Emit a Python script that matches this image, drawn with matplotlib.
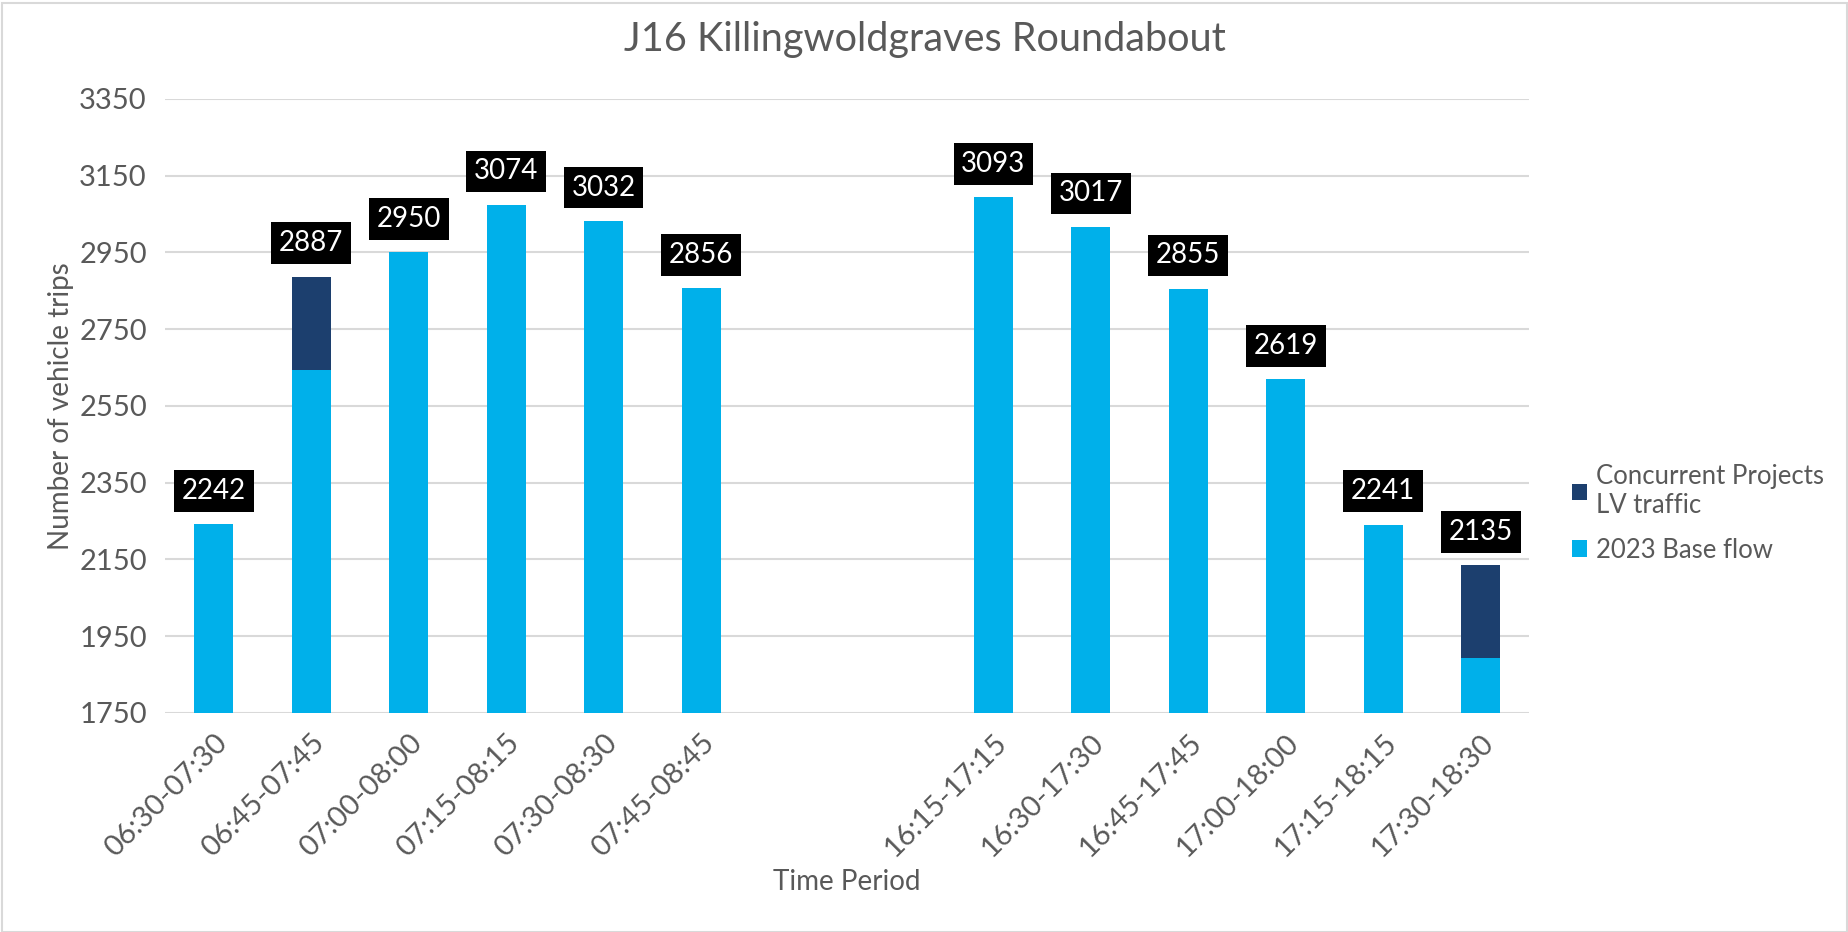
import matplotlib.pyplot as plt
import matplotlib.patches as patches
import numpy as np

plt.rcParams["font.family"] = ["Lato", "DejaVu Sans"]

# two empty slots separate the morning and evening peaks
periods = [
    "06:30-07:30", "06:45-07:45", "07:00-08:00", "07:15-08:15", "07:30-08:30",
    "07:45-08:45", "", "", "16:15-17:15", "16:30-17:30", "16:45-17:45",
    "17:00-18:00", "17:15-18:15", "17:30-18:30",
]
base_flow = [2242, 2644, 2950, 3074, 3032, 2856, np.nan, np.nan,
             3093, 3017, 2855, 2619, 2241, 1892]
concurrent = [0, 243, 0, 0, 0, 0, np.nan, np.nan, 0, 0, 0, 0, 0, 243]
yticks = [1750, 1950, 2150, 2350, 2550, 2750, 2950, 3150, 3350]

TEXT = "#595959"
GRID = "#D9D9D9"
BASE_C = "#00B0EA"
CONC_C = "#1C3F6E"

fig = plt.figure(figsize=(18.49, 9.32), dpi=100)
ax = fig.add_axes([0.0892, 0.235, 0.738, 0.659])

# light frame round the whole chart
fig.patches.append(patches.Rectangle((0.001, 0.0), 0.998, 0.997, transform=fig.transFigure,
                                     fill=False, edgecolor=GRID, linewidth=1.5))

x = np.arange(len(periods))
base = np.array(base_flow, dtype=float)
conc = np.array(concurrent, dtype=float)
ax.bar(x, base, width=0.4, color=BASE_C, label="2023 Base flow", zorder=3)
ax.bar(x, conc, width=0.4, bottom=base, color=CONC_C,
       label="Concurrent Projects\nLV traffic", zorder=3)

total = base + conc
for xi, t in zip(x, total):
    if np.isnan(t):
        continue
    ax.annotate(f"{t:.0f}", (xi, t), xytext=(0, 24), textcoords="offset points",
                ha="center", va="center", color="white", fontsize=20,
                bbox=dict(boxstyle="square,pad=0.28", fc="black", ec="none"),
                zorder=5)

ax.set_ylim(1750, 3350)
ax.set_xlim(-0.5, len(periods) - 0.5)
ax.set_yticks(yticks)
ax.set_xticks(x)
ax.set_xticklabels(periods, rotation=45, ha="right", rotation_mode="anchor")
ax.tick_params(axis="both", length=0, labelsize=21, colors=TEXT, pad=12)
ax.tick_params(axis="y", pad=13)
ax.grid(axis="y", color=GRID, linewidth=1.5, zorder=0)
for s in ax.spines.values():
    s.set_visible(False)

fig.text(0.5, 0.958, "J16 Killingwoldgraves Roundabout", fontsize=28.5,
         color=TEXT, ha="center", va="center")
ax.set_ylabel("Number of vehicle trips", fontsize=20, color=TEXT, labelpad=4)
ax.set_xlabel("Time Period", fontsize=20, color=TEXT, labelpad=5)

handles, labels = ax.get_legend_handles_labels()
leg = ax.legend(handles[::-1], labels[::-1], loc="center left",
                bbox_to_anchor=(1.014, 0.325), frameon=False, fontsize=18.5,
                handlelength=0.6, handleheight=0.6, handletextpad=0.35,
                labelspacing=0.75)
for t in leg.get_texts():
    t.set_color(TEXT)

fig.savefig("out.png", dpi=100)
